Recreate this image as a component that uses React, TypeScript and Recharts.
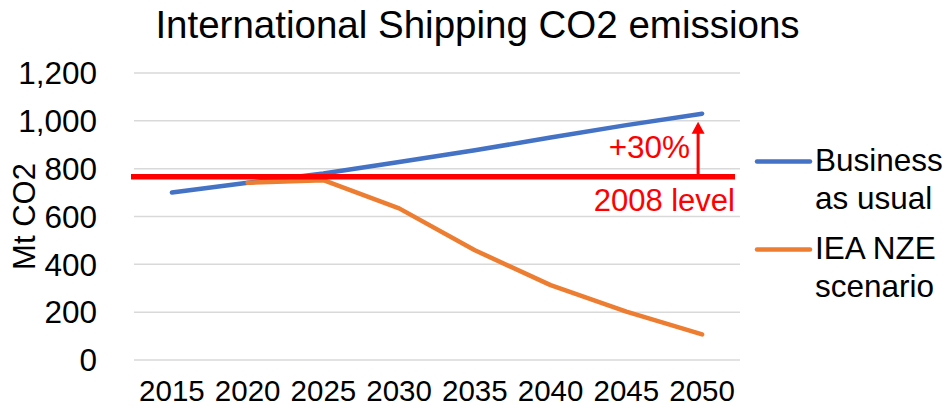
import React from 'react';
import {
  LineChart,
  Line,
  XAxis,
  YAxis,
  CartesianGrid,
  ReferenceLine,
  Legend,
} from 'recharts';

// Projection years and emissions (Mt CO2)
const years = ['2015', '2020', '2025', '2030', '2035', '2040', '2045', '2050'];
const businessAsUsual = [700, 741, 780, 828, 877, 930, 982, 1030];
const ieaNze: (number | null)[] = [null, 741, 752, 634, 459, 313, 202, 107];

const yTicks = [0, 200, 400, 600, 800, 1000, 1200];

// 2008 baseline and the +30% rise reached by 2050 under business as usual
const level2008 = 766;
const rise2050 = 996;
const riseLabel = '+30%';
const baselineLabel = '2008 level';

const seriesNames = ['Business as usual', 'IEA NZE scenario'];
const legendLines = [
  ['Business', 'as usual'],
  ['IEA NZE', 'scenario'],
];
const seriesColors = ['#4472C4', '#ED7D31'];

const data = years.map((year, i) => ({
  year,
  bau: businessAsUsual[i],
  nze: ieaNze[i],
}));

const FONT = '"Liberation Sans", Arial, sans-serif';
const RED = '#FF0000';

const fmt = (v: number) => v.toLocaleString('en-US');

function LegendBlock() {
  return (
    <div style={{ fontFamily: FONT, fontSize: 31.5, lineHeight: '37.5px', color: '#000' }}>
      {legendLines.map((lines, i) => (
        <div key={i} style={{ display: 'flex', alignItems: 'flex-start', marginBottom: 13 }}>
          <svg width={62} height={37} style={{ flex: 'none' }}>
            <line x1={4} y1={19.5} x2={57} y2={19.5} stroke={seriesColors[i]} strokeWidth={4.5} strokeLinecap="round" />
          </svg>
          <div style={{ whiteSpace: 'nowrap' }}>
            {lines.map((t, j) => (
              <div key={j}>{t}</div>
            ))}
          </div>
        </div>
      ))}
    </div>
  );
}

export default function App() {
  return (
    <div style={{ position: 'fixed', left: 0, top: 0, width: 945, height: 408, background: '#fff', overflow: 'hidden' }}>
      <div
        style={{
          position: 'absolute',
          left: 5,
          top: 6,
          width: 945,
          textAlign: 'center',
          fontFamily: FONT,
          fontSize: 38.5,
          lineHeight: '38.5px',
          color: '#000',
          whiteSpace: 'nowrap',
        }}
      >
        International Shipping CO2 emissions
      </div>
      <LineChart
        width={945}
        height={408}
        data={data}
        margin={{ top: 73, right: 205, bottom: 0, left: 0 }}
        style={{ fontFamily: FONT }}
      >
        <CartesianGrid vertical={false} stroke="#D9D9D9" strokeWidth={1.5} />
        <XAxis
          dataKey="year"
          height={48}
          axisLine={false}
          tickLine={false}
          tickSize={0}
          tickMargin={20}
          padding={{ left: 37.9, right: 37.9 }}
          tick={{ fill: '#000', fontSize: 29.5 }}
          interval={0}
        />
        <YAxis
          width={134}
          domain={[0, 1200]}
          ticks={yTicks}
          tickFormatter={fmt}
          axisLine={false}
          tickLine={false}
          tickSize={0}
          tickMargin={37}
          tick={{ fill: '#000', fontSize: 31.5 }}
          label={{
            content: (props: any) => {
              const vb = props.viewBox || {};
              const cx = 24;
              const cy = (vb.y ?? 73) + (vb.height ?? 287) / 2;
              return (
                <text
                  x={cx}
                  y={cy}
                  transform={`rotate(-90 ${cx} ${cy})`}
                  textAnchor="middle"
                  dominantBaseline="central"
                  fontSize={31}
                  fill="#000"
                  fontFamily={FONT}
                >
                  Mt CO2
                </text>
              );
            },
          }}
        />
        <Line
          name={seriesNames[0]}
          dataKey="bau"
          stroke={seriesColors[0]}
          strokeWidth={4.5}
          strokeLinecap="round"
          strokeLinejoin="round"
          dot={false}
          activeDot={false}
          isAnimationActive={false}
        />
        <Line
          name={seriesNames[1]}
          dataKey="nze"
          stroke={seriesColors[1]}
          strokeWidth={4.5}
          strokeLinecap="round"
          strokeLinejoin="round"
          dot={false}
          activeDot={false}
          isAnimationActive={false}
        />
        <ReferenceLine
          y={level2008}
          ifOverflow="visible"
          shape={(p: any) => (
            <line x1={p.x1 - 3} y1={p.y1} x2={p.x2 - 5} y2={p.y2} stroke={RED} strokeWidth={5.5} />
          )}
          label={{
            content: (props: any) => {
              const vb = props.viewBox || {};
              return (
                <text
                  x={vb.x + vb.width - 5}
                  y={vb.y + 34.5}
                  textAnchor="end"
                  fontSize={31}
                  fill={RED}
                  fontFamily={FONT}
                >
                  {baselineLabel}
                </text>
              );
            },
          }}
        />
        <ReferenceLine
          segment={[
            { x: '2050', y: level2008 },
            { x: '2050', y: rise2050 },
          ]}
          ifOverflow="visible"
          shape={(p: any) => {
            const x = p.x1 - 4;
            const base = Math.max(p.y1, p.y2) - 2.5;
            const tip = Math.min(p.y1, p.y2);
            const headLen = 12;
            return (
              <g>
                <line x1={x} y1={base} x2={x} y2={tip + headLen - 1} stroke={RED} strokeWidth={3} />
                <polygon points={`${x - 6.5},${tip + headLen} ${x + 6.5},${tip + headLen} ${x},${tip}`} fill={RED} />
              </g>
            );
          }}
          label={{
            content: (props: any) => {
              const vb = props.viewBox || {};
              const x = (vb.x ?? 702) - 12;
              const baseY = (vb.y ?? 122) + (vb.height ?? 55);
              return (
                <text x={x} y={baseY - 18.5} textAnchor="end" fontSize={31.5} fill={RED} fontFamily={FONT}>
                  {riseLabel}
                </text>
              );
            },
          }}
        />
        <Legend
          layout="vertical"
          align="center"
          verticalAlign="middle"
          content={() => <LegendBlock />}
          wrapperStyle={{ left: 753, top: 142, width: 192 }}
        />
      </LineChart>
    </div>
  );
}
